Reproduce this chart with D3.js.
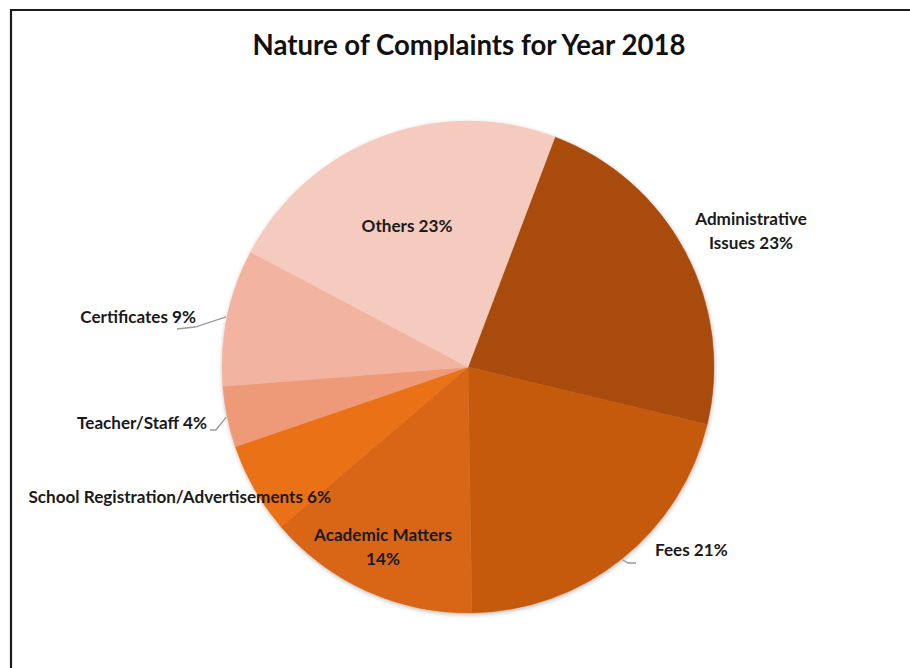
<!DOCTYPE html>
<html>
<head>
<meta charset="utf-8">
<script src="https://cdn.jsdelivr.net/npm/d3@7"></script>
<style>
  html, body { margin: 0; padding: 0; background: #fff; }
  svg { display: block; font-family: Lato, "Open Sans", sans-serif; }
</style>
</head>
<body>
<svg id="chart" width="910" height="668"></svg>
<script>
// Complaint categories and their share of the total (%)
const categories = [
  "Administrative Issues",
  "Fees",
  "Academic Matters",
  "School Registration/Advertisements",
  "Teacher/Staff",
  "Certificates",
  "Others"
];
const values = [23, 21, 14, 6, 4, 9, 23];
const colors = ["#A84C0C", "#C55A11", "#D96616", "#EB7118", "#EE9A78", "#F2B4A0", "#F6CBBF"];
const chartTitle = "Nature of Complaints for Year 2018";

const W = 910, H = 668;
const cx = 468, cy = 367, R = 246;
const startDeg = 20.7;

const svg = d3.select("#chart");

// frame around the chart area
svg.append("path")
  .attr("d", `M11,${H} L11,10 L${W},10`)
  .attr("fill", "none")
  .attr("stroke", "#1a1a1a")
  .attr("stroke-width", 2.2);

svg.append("text")
  .attr("x", 469).attr("y", 55)
  .attr("text-anchor", "middle")
  .attr("font-size", 27.6)
  .attr("font-weight", 700)
  .attr("fill", "#111")
  .text(chartTitle);

const defs = svg.append("defs");
const f = defs.append("filter").attr("id", "shadow")
  .attr("x", "-10%").attr("y", "-10%").attr("width", "120%").attr("height", "120%");
f.append("feDropShadow")
  .attr("dx", 0.5).attr("dy", 1.5).attr("stdDeviation", 2)
  .attr("flood-color", "#000").attr("flood-opacity", 0.28);

const rows = categories.map((c, i) => ({ name: c, value: values[i], color: colors[i] }));

const a0 = startDeg * Math.PI / 180;
const pie = d3.pie().sort(null).value(d => d.value)
  .startAngle(a0).endAngle(a0 + 2 * Math.PI);
const arcs = pie(rows);
const arc = d3.arc().innerRadius(0).outerRadius(R);

const g = svg.append("g").attr("transform", `translate(${cx},${cy})`);
g.append("g").attr("filter", "url(#shadow)")
  .selectAll("path").data(arcs).join("path")
  .attr("d", arc)
  .attr("fill", d => d.data.color)
  .attr("stroke", d => d.data.color)
  .attr("stroke-width", 0.5);

// label placement (offsets from the pie centre) and optional leader lines
const layout = {
  "Administrative Issues": { x: 283, y: -142, anchor: "middle", lines: ["Administrative", "Issues 23%"] },
  "Fees": { x: 187, y: 189, anchor: "start", lines: ["Fees 21%"], leader: [[160, 196], [168, 196]] },
  "Academic Matters": { x: -85, y: 174, anchor: "middle", lines: ["Academic Matters", "14%"] },
  "School Registration/Advertisements": { x: -137, y: 136, anchor: "end", lines: ["School Registration/Advertisements 6%"] },
  "Teacher/Staff": { x: -261, y: 62, anchor: "end", lines: ["Teacher/Staff 4%"], leader: [[-252, 63], [-258, 63]] },
  "Certificates": { x: -272, y: -44, anchor: "end", lines: ["Certificates 9%"], leader: [[-273, -40], [-291, -38]] },
  "Others": { x: -61, y: -135, anchor: "middle", lines: ["Others 23%"] }
};

const lineH = 23.5;
arcs.forEach(d => {
  const L = layout[d.data.name];
  if (L.leader) {
    const mid = (d.startAngle + d.endAngle) / 2;
    const p0 = [Math.sin(mid) * (R + 1), -Math.cos(mid) * (R + 1)];
    const pts = [p0].concat(L.leader);
    g.append("path")
      .attr("d", d3.line()(pts))
      .attr("fill", "none")
      .attr("stroke", "#9a9a9a")
      .attr("stroke-width", 1.3);
  }
  const t = g.append("text")
    .attr("text-anchor", L.anchor)
    .attr("font-size", 17.1)
    .attr("font-weight", 700)
    .attr("fill", "#1a1a1a");
  L.lines.forEach((s, i) => {
    t.append("tspan").attr("x", L.x).attr("y", L.y + i * lineH).text(s);
  });
});
</script>
</body>
</html>
